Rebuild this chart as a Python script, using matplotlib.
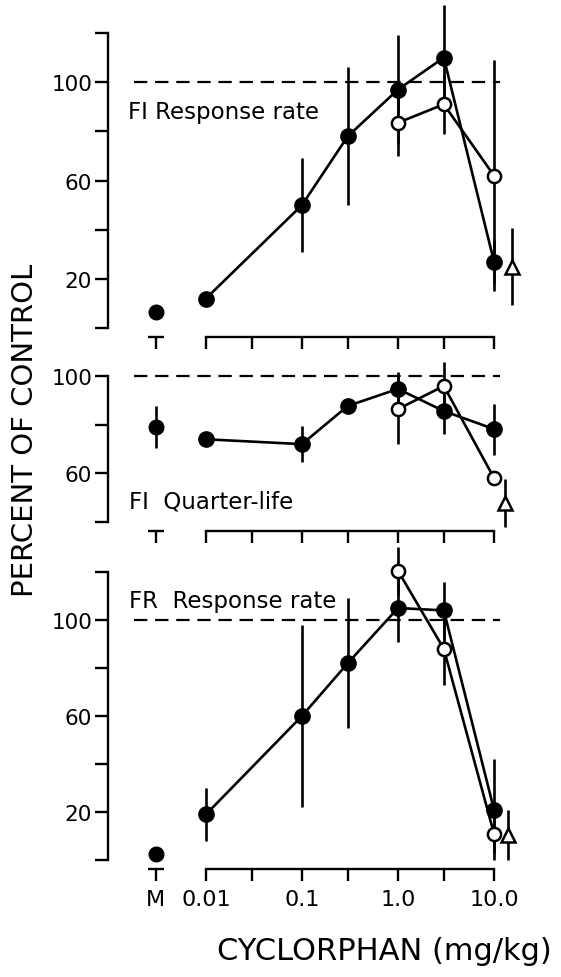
import matplotlib
matplotlib.use('Agg')
import matplotlib.pyplot as plt
import matplotlib.transforms as mtransforms
from matplotlib.ticker import NullLocator

# ---------------- data ----------------
doses = [0.01, 0.1, 0.3, 1.0, 3.0, 10.0]
open_doses = [1.0, 3.0, 10.0]
m_dose = 0.003                       # "M" position on the dose axis
tri_dose = [15.5, 13.0, 14.0]        # triangle (one per panel)

x_ticks = [m_dose, 0.01, 0.03, 0.1, 0.3, 1.0, 3.0, 10.0]
x_ticklabels = ['M', '0.01', '', '0.1', '', '1.0', '', '10.0']

# Panel 1: FI response rate
fi_rate_m, fi_rate_m_err = 6.5, 0
fi_rate_filled = [12, 50, 78, 97, 110, 27]
fi_rate_filled_err = [0, 19, 28, 22, 21.5, 9]
fi_rate_open = [83.5, 91, 62]
fi_rate_open_err = [13.5, 12, 47]
fi_rate_tri, fi_rate_tri_err = 25, 15.5

# Panel 2: FI quarter-life
fi_ql_m, fi_ql_m_err = 79, 8.5
fi_ql_filled = [74, 72, 87.7, 94.7, 85.6, 78.2]
fi_ql_filled_err = [0, 7.4, 0, 7, 9.4, 10.5]
fi_ql_open = [86.4, 95.9, 58.1]
fi_ql_open_err = [14.4, 10, 0]
fi_ql_tri, fi_ql_tri_err = 47.8, 10

# Panel 3: FR response rate
fr_rate_m, fr_rate_m_err = 2.5, 0
fr_rate_filled = [19, 60, 82, 105, 104, 21]
fr_rate_filled_err = [11, 38, 27, 14, 12, 21]
fr_rate_open = [120.5, 88, 11]
fr_rate_open_err = [10, 15, 8]
fr_rate_tri, fr_rate_tri_err = 10.5, 10.4

panel_titles = ['FI Response rate', 'FI  Quarter-life', 'FR  Response rate']

# ---------------- figure ----------------
W, H = 561, 978
fig = plt.figure(figsize=(W / 100, H / 100), dpi=100)
plt.rcParams['font.family'] = ['DejaVu Sans']

XLIM = (10 ** -3.02, 10 ** 1.375)
LW = 1.9


def px_axes(top, bottom, left=108, right=530):
    return fig.add_axes([left / W, 1 - bottom / H, (right - left) / W, (bottom - top) / H])


def draw_panel(ax, ylim, spine_bounds, yticks, yticklabels,
               m_val, m_err, filled, filled_err, opn, opn_err, tri_x, tri, tri_err,
               title, title_xy, show_xlabels):
    ax.set_facecolor('none')
    ax.set_xscale('log')
    ax.set_xlim(*XLIM)
    ax.set_ylim(*ylim)
    for s in ('top', 'right'):
        ax.spines[s].set_visible(False)
    ax.spines['left'].set_bounds(*spine_bounds)
    ax.spines['left'].set_linewidth(1.7)
    ax.spines['bottom'].set_position(('outward', 6.5))
    ax.spines['bottom'].set_bounds(0.01, 10.0)
    ax.spines['bottom'].set_linewidth(1.7)

    ax.set_xticks(x_ticks)
    ax.xaxis.set_minor_locator(NullLocator())
    ax.set_xticklabels(x_ticklabels if show_xlabels else [''] * len(x_ticks))
    ax.set_yticks(yticks)
    ax.set_yticklabels(yticklabels)
    ax.tick_params(axis='x', direction='out', length=8.6, width=1.7, pad=6, labelsize=16)
    ax.tick_params(axis='y', direction='out', length=9.4, width=1.7, pad=2, labelsize=15.5)

    # T bar above the "M" tick
    trans = mtransforms.blended_transform_factory(ax.transData, ax.transAxes) + \
        mtransforms.ScaledTranslation(0, -0.09, fig.dpi_scale_trans)
    ax.plot([m_dose], [0], marker='_', ms=11.5, mew=1.7, color='k',
            transform=trans, clip_on=False)

    # control line
    ax.hlines(100, 10 ** -2.75, 10 ** 1.0625, colors='k', lw=1.6,
              linestyles=(0, (6, 3.5)), zorder=1)

    # error bars
    ax.vlines([m_dose], [m_val - m_err], [m_val + m_err], colors='k', lw=LW, zorder=1, clip_on=False)
    ax.vlines(doses, [v - e for v, e in zip(filled, filled_err)],
              [v + e for v, e in zip(filled, filled_err)], colors='k', lw=LW, zorder=1, clip_on=False)
    ax.vlines(open_doses, [v - e for v, e in zip(opn, opn_err)],
              [v + e for v, e in zip(opn, opn_err)], colors='k', lw=LW, zorder=1, clip_on=False)
    ax.vlines([tri_x], [tri - tri_err], [tri + tri_err], colors='k', lw=LW, zorder=1, clip_on=False)

    # series
    ax.plot([m_dose], [m_val], 'o', color='k', ms=10.5, clip_on=False, zorder=3)
    ax.plot(doses, filled, '-o', color='k', ms=11, lw=LW, clip_on=False, zorder=3)
    ax.plot(open_doses, opn, '-o', color='k', mfc='white', mec='k', ms=9.5, mew=1.8,
            lw=LW, clip_on=False, zorder=4)
    ax.plot([tri_x], [tri], '^', color='k', mfc='white', mec='k', ms=10, mew=1.8,
            clip_on=False, zorder=4)

    ax.text(title_xy[0], title_xy[1], title, ha='left', va='center', fontsize=16.5)


ax1 = px_axes(0, 329)
draw_panel(ax1, (0, 329 / 2.458), (0, 120), [0, 20, 40, 60, 80, 100, 120],
           ['', '20', '', '60', '', '100', ''],
           fi_rate_m, fi_rate_m_err, fi_rate_filled, fi_rate_filled_err,
           fi_rate_open, fi_rate_open_err, tri_dose[0], fi_rate_tri, fi_rate_tri_err,
           panel_titles[0], (10 ** -2.81, 88), False)

ax2 = px_axes(350, 523)
draw_panel(ax2, (40, 40 + 173 / 2.433), (40, 100), [40, 60, 80, 100],
           ['', '60', '', '100'],
           fi_ql_m, fi_ql_m_err, fi_ql_filled, fi_ql_filled_err,
           fi_ql_open, fi_ql_open_err, tri_dose[1], fi_ql_tri, fi_ql_tri_err,
           panel_titles[1], (10 ** -2.80, 48.6), False)

ax3 = px_axes(540, 861)
draw_panel(ax3, (0, 321 / 2.4), (0, 120), [0, 20, 40, 60, 80, 100, 120],
           ['', '20', '', '60', '', '100', ''],
           fr_rate_m, fr_rate_m_err, fr_rate_filled, fr_rate_filled_err,
           fr_rate_open, fr_rate_open_err, tri_dose[2], fr_rate_tri, fr_rate_tri_err,
           panel_titles[2], (10 ** -2.80, 108), True)

fig.text(25 / W, 1 - 430 / H, 'PERCENT OF CONTROL', rotation=90,
         ha='center', va='center', fontsize=21)
fig.text(384 / W, 1 - 952 / H, 'CYCLORPHAN (mg/kg)', ha='center', va='center', fontsize=22)

fig.savefig('out.png', dpi=100)
